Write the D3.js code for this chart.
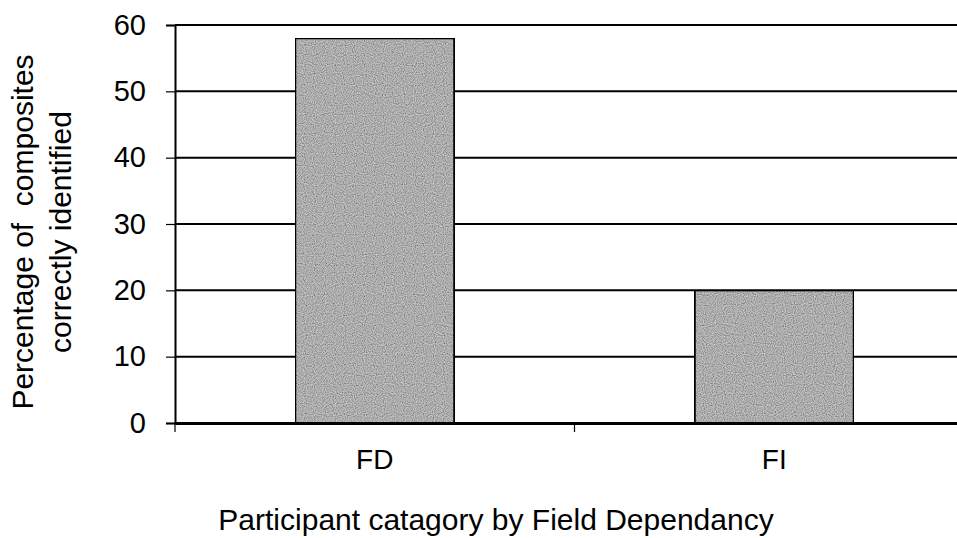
<!DOCTYPE html>
<html lang="en">
<head>
<meta charset="utf-8">
<title>Field dependency chart</title>
<style>
  body { margin: 0; background: #fff; }
  svg text { font-family: "Liberation Sans", Arial, sans-serif; fill: #000; }
</style>
</head>
<body>
<svg id="chart" width="957" height="538"></svg>
<script src="https://d3js.org/d3.v7.min.js"></script>
<script>

var categories = ["FD", "FI"];
var percentages = [58, 20];
var yTicks = [0, 10, 20, 30, 40, 50, 60];

var svg = d3.select("svg#chart");
var margin = {left: 175, top: 25, bottom: 423};
var plotRight = 974;

var x = d3.scaleBand().domain(categories).range([margin.left, plotRight]).paddingInner(0).paddingOuter(0);
var y = d3.scaleLinear().domain([0, 60]).range([margin.bottom, margin.top]);

// noisy grey fill like the scanned original
var defs = svg.append("defs");
var filt = defs.append("filter").attr("id", "grain")
    .attr("x", 0).attr("y", 0).attr("width", "100%").attr("height", "100%");
filt.append("feTurbulence").attr("type", "fractalNoise").attr("baseFrequency", 0.9)
    .attr("numOctaves", 1).attr("seed", 3).attr("result", "noise");
filt.append("feColorMatrix").attr("in", "noise").attr("type", "matrix")
    .attr("values", "0 0 0 0 0  0 0 0 0 0  0 0 0 0 0  0 0 0 1.4 -0.45").attr("result", "dots");
filt.append("feComposite").attr("in", "dots").attr("in2", "SourceGraphic").attr("operator", "in").attr("result", "dd");
filt.append("feMerge").selectAll("feMergeNode").data(["SourceGraphic", "dd"]).enter()
    .append("feMergeNode").attr("in", function(d) { return d; });

// gridlines
svg.append("g").attr("class", "grid")
  .selectAll("line").data(yTicks.slice(1)).enter().append("line")
    .attr("x1", margin.left).attr("x2", plotRight)
    .attr("y1", function(d) { return y(d); }).attr("y2", function(d) { return y(d); })
    .attr("stroke", "#000").attr("stroke-width", 2);

// bars
var barW = 159;
svg.append("g").attr("class", "bars")
  .selectAll("rect").data(percentages).enter().append("rect")
    .attr("x", function(d, i) { return x(categories[i]) + x.bandwidth() / 2 - barW / 2; })
    .attr("y", function(d) { return y(d); })
    .attr("width", barW)
    .attr("height", function(d) { return y(0) - y(d); })
    .attr("fill", "#c4c4c4")
    .attr("filter", "url(#grain)")
    .attr("stroke", "#000").attr("stroke-width", 2);

// y axis
var yAxis = svg.append("g").attr("transform", "translate(" + margin.left + ",0)")
    .call(d3.axisLeft(y).tickValues(yTicks).tickSize(9).tickPadding(20));
yAxis.select(".domain").attr("stroke-width", 2);
yAxis.selectAll(".tick line").attr("stroke-width", 1.2);
yAxis.selectAll(".tick text").attr("font-size", 29);

// x axis
var xAxis = svg.append("g").attr("transform", "translate(0," + y(0) + ")")
    .call(d3.axisBottom(x).tickSize(0).tickPadding(26));
xAxis.select(".domain").attr("stroke-width", 3);
xAxis.selectAll(".tick text").attr("font-size", 28);
svg.append("g").selectAll("line").data(categories).enter().append("line")
    .attr("x1", function(d) { return x(d); }).attr("x2", function(d) { return x(d); })
    .attr("y1", y(0)).attr("y2", y(0) + 9)
    .attr("stroke", "#000").attr("stroke-width", 1.2);

// titles
svg.append("text").attr("x", 496).attr("y", 530).attr("text-anchor", "middle")
    .attr("font-size", 30).text("Participant catagory by Field Dependancy");

var yt = svg.append("text").attr("transform", "translate(0,232) rotate(-90)")
    .attr("text-anchor", "middle").attr("font-size", 30);
yt.append("tspan").attr("x", 0).attr("y", 33).attr("xml:space", "preserve").text("Percentage of  composites");
yt.append("tspan").attr("x", 0).attr("y", 71).text("correctly identified");

</script>
</body>
</html>
